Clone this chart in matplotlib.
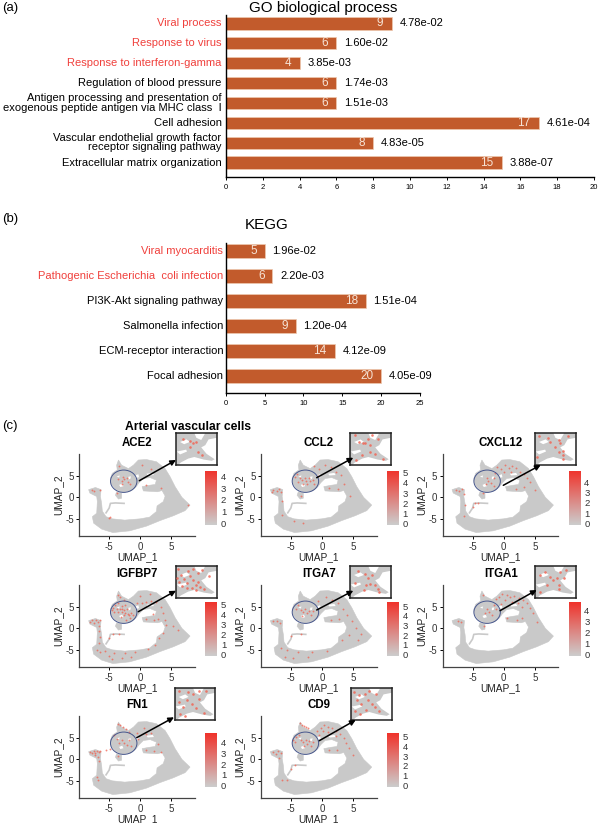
import matplotlib

matplotlib.use("Agg")
import matplotlib.pyplot as plt
import numpy as np
from matplotlib.colors import LinearSegmentedColormap
from matplotlib.patches import Ellipse, Polygon

W, H = 600, 824

plt.rcParams["font.family"] = ["Liberation Sans", "DejaVu Sans"]
plt.rcParams["axes.unicode_minus"] = False

BAR_COLOR = "#c25b2c"
RED_TEXT = "#f0403c"
GRAY_CELLS = "#c9c9c9"
RED_CELLS = "#f2604f"

go_terms = [
    "Viral process",
    "Response to virus",
    "Response to interferon-gamma",
    "Regulation of blood pressure",
    "Antigen processing and presentation of\nexogenous peptide antigen via MHC class  \u2160",
    "Cell adhesion",
    "Vascular endothelial growth factor\nreceptor signaling pathway",
    "Extracellular matrix organization",
]
go_counts = [9, 6, 4, 6, 6, 17, 8, 15]
go_pvalues = ["4.78e-02", "1.60e-02", "3.85e-03", "1.74e-03", "1.51e-03", "4.61e-04", "4.83e-05", "3.88e-07"]
go_red = [True, True, True, False, False, False, False, False]

kegg_terms = [
    "Viral myocarditis",
    "Pathogenic Escherichia  coli infection",
    "PI3K-Akt signaling pathway",
    "Salmonella infection",
    "ECM-receptor interaction",
    "Focal adhesion",
]
kegg_counts = [5, 6, 18, 9, 14, 20]
kegg_pvalues = ["1.96e-02", "2.20e-03", "1.51e-04", "1.20e-04", "4.12e-09", "4.05e-09"]
kegg_red = [True, True, False, False, False, False]

# UMAP outline, in UMAP units
umap_outline = [
    (-4.8, 4.4), (-4.5, 5.6), (-3.7, 6.4), (-3.8, 7.5), (-3.5, 8.7), (-3.0, 7.5), (-1.9, 6.7),
    (-1.1, 7.5), (-0.3, 8.7), (1.0, 8.8), (2.6, 8.3), (4.0, 6.7), (4.8, 4.8), (5.6, 2.5),
    (6.7, 0.0), (8.0, -1.8), (7.2, -3.1), (5.3, -4.3), (3.2, -5.4), (1.0, -6.7), (-1.7, -7.8),
    (-4.4, -8.2), (-6.2, -7.4), (-7.5, -6.0), (-7.7, -4.5), (-7.0, -3.7), (-6.9, -1.0),
    (-7.0, 0.2), (-8.1, 1.0), (-8.3, 1.8), (-7.2, 2.3), (-6.3, 1.8), (-6.4, 0.2), (-6.2, -1.5),
    (-6.1, -3.2), (-5.5, -4.5), (-4.5, -5.0), (-2.5, -5.3), (0.0, -5.0), (1.5, -4.6), (2.6, -3.3),
    (2.7, -2.0), (3.7, -1.0), (4.0, 0.3), (3.5, 1.6), (2.8, 1.3), (0.5, 1.5), (0.3, 2.5),
    (1.4, 2.8), (2.4, 3.0), (2.6, 4.0), (1.6, 4.6), (0.5, 4.4), (-0.2, 3.4), (-0.7, 2.4),
    (-1.5, 1.5), (-2.8, 1.2), (-4.0, 1.9), (-4.7, 3.2),
]
umap_island = [(-3.8, 1.3), (-3.0, 1.0), (-3.0, -0.2), (-3.5, -0.4), (-4.0, 0.5)]
umap_strand_x = [-5.5, -5.0, -4.8, -4.0, -2.6]
umap_strand_y = [-3.6, -2.5, -1.4, -1.3, -1.4]
umap_gaps = [
    [(1.0, 5.5), (2.0, 5.7), (2.2, 5.2), (1.2, 5.1)],
    [(-0.8, 5.1), (-0.3, 5.4), (-0.2, 4.7), (-0.7, 4.5)],
    [(-3.4, 2.9), (-2.9, 3.2), (-2.7, 2.6), (-3.2, 2.4)],
    [(-1.9, 4.8), (-1.5, 4.9), (-1.6, 4.3), (-1.9, 4.2)],
    [(-3.8, 4.9), (-3.3, 5.1), (-3.4, 4.6)],
]

# zoomed region, fractions of the inset box
inset_outline = [
    (0, 1), (0.45, 1), (0.5, 0.85), (0.62, 0.78), (0.72, 1), (1, 1), (1, 0.85), (0.8, 0.8),
    (0.72, 0.62), (0.62, 0.55), (0.75, 0.35), (0.95, 0.18), (0.88, 0.13), (0.68, 0.17),
    (0.45, 0.25), (0.3, 0.2), (0.12, 0.08), (0.05, 0), (0, 0),
]
inset_gaps = [
    [(0.1, 0.72), (0.26, 0.8), (0.34, 0.72), (0.2, 0.65)],
    [(0.02, 0.42), (0.25, 0.48), (0.27, 0.42), (0.1, 0.33)],
]

ace2_cells = [(-2.7, 4.7), (-2.6, 4.2), (-2.2, 4.4), (-3.0, 3.8), (-2.0, 3.6), (-1.6, 3.2), (-3.5, 4.2), (-2.9, 3.0),
              (-7.4, 1.5), (-7.8, 1.7), (-6.5, 1.6), (-3.4, 7.4), (0.2, 7.6), (1.8, 6.5), (3.3, 2.2), (-5.0, -4.8),
              (-4.8, -4.5), (1.0, 2.8), (7.7, -1.7), (-3.8, 1.0)]
ccl2_cells = [(-3.6, 4.4), (-3.2, 4.0), (-2.8, 4.4), (-2.5, 3.8), (-2.1, 4.6), (-1.9, 3.9), (-3.0, 3.2), (-2.4, 3.0),
              (-3.9, 3.6), (-4.3, 4.8), (-4.0, 5.5), (-1.4, 4.0), (-1.2, 3.2), (-7.8, 1.8), (-7.3, 1.4), (-6.9, 1.9),
              (-6.6, 1.3), (-8.0, 1.2), (-6.5, -0.8), (-0.5, 6.5), (0.5, 7.5), (1.5, 7.0), (2.3, 6.0), (3.0, 5.2),
              (-0.7, 5.0), (3.5, 3.0), (1.2, 2.2), (2.5, 2.0), (-4.5, -5.5), (-3.0, -6.0), (-6.5, -4.0), (-3.4, 0.4),
              (4.5, 0.4), (-1.2, 7.2)]
cxcl12_cells = [(-1.0, 7.0), (-0.5, 6.6), (0.2, 7.6), (0.8, 6.8), (1.3, 7.4), (2.0, 6.8), (2.7, 6.0), (3.3, 5.4),
                (3.8, 4.6), (4.2, 3.5), (1.2, 5.9), (0.0, 5.8), (-1.4, 5.6), (-2.6, 4.6), (-2.5, 3.9), (-2.1, 3.3),
                (-2.9, 3.2), (-1.6, 4.6), (-1.6, 2.6), (-7.6, 1.8), (-7.1, 1.5), (-6.7, 1.9), (-6.4, 0.8), (-6.2, -1.8),
                (-5.0, -2.2), (-4.6, -1.4), (-4.2, -1.3), (-3.3, 1.0), (2.0, 2.0), (3.2, 2.4), (5.0, 1.8), (-6.4, -4.4)]
igfbp7_cells = [(-4.6, 4.2), (-4.4, 4.8), (-4.1, 5.4), (-4.2, 3.8), (-3.8, 4.6), (-3.6, 3.9), (-3.3, 4.4), (-3.0, 3.9),
                (-2.9, 4.6), (-2.6, 4.2), (-2.4, 3.6), (-2.2, 4.4), (-2.0, 3.4), (-1.8, 3.0), (-2.6, 3.0), (-3.1, 2.6),
                (-1.5, 3.6), (-1.2, 3.2), (-1.6, 2.4), (-2.3, 1.9), (-3.0, 5.2), (-2.4, 5.4), (-3.6, 5.9), (-3.5, 7.7),
                (-3.2, 7.2), (-2.6, 6.6), (-8.0, 1.5), (-7.7, 1.9), (-7.4, 1.3), (-7.1, 2.0), (-6.8, 1.5), (-6.5, 1.9),
                (-6.6, 0.6), (-6.7, -0.6), (-6.5, -2.0), (-6.6, -3.4), (-5.0, -2.2), (-4.4, -1.4), (-3.4, -1.4),
                (-0.5, 6.0), (0.3, 5.9), (1.0, 6.2), (1.8, 6.4), (2.6, 6.1), (3.3, 5.0), (3.6, 3.6), (2.0, 3.4),
                (1.0, 2.2), (2.2, 2.0), (2.8, 2.2), (3.9, 2.0), (4.2, 0.8), (3.6, -1.0), (3.0, -2.2), (2.4, -3.8),
                (1.2, -4.9), (-0.8, -5.5), (-2.5, -5.8), (-4.2, -5.8), (-5.6, -5.2), (-6.4, -5.6), (-4.6, -7.2),
                (-3.0, -7.0), (-5.0, -6.4), (5.2, 0.5), (6.0, -0.4), (0.0, 7.6), (1.5, 8.0), (-6.9, -5.0), (-1.5, -6.6)]
itga7_cells = [(-3.4, 4.3), (-3.0, 3.7), (-2.7, 4.4), (-2.4, 3.5), (-2.1, 4.0), (-1.8, 3.2), (-3.2, 2.8), (-1.5, 4.1),
               (-4.2, 4.6), (-3.9, 5.4), (-7.8, 1.7), (-7.2, 1.6), (-6.7, 1.2), (-0.6, 6.4), (0.6, 7.2), (1.6, 6.6),
               (2.6, 5.8), (3.4, 4.6), (4.0, 3.0), (4.8, 1.6), (5.4, 0.2), (6.2, -1.2), (5.8, -2.6), (4.4, -1.6),
               (3.2, -2.8), (1.4, 2.0), (2.7, 2.2), (0.8, -5.2), (-1.6, -5.5), (-3.8, -5.6), (-5.6, -5.0), (-6.6, -4.6),
               (-4.6, -7.0), (-2.2, -6.7), (-6.0, -6.6), (-5.0, -1.8), (-3.4, -1.3)]
itga1_cells = [(-1.2, 6.8), (-0.7, 7.4), (-0.2, 7.9), (0.5, 7.8), (1.0, 7.2), (1.7, 7.5), (2.4, 7.0), (3.1, 6.5),
               (3.7, 5.8), (4.2, 4.7), (4.7, 3.6), (0.2, 6.5), (1.3, 6.2), (2.3, 5.8), (3.0, 5.0), (-0.4, 5.6),
               (-1.6, 5.4), (-2.6, 4.5), (-2.3, 3.7), (-1.8, 3.1), (-3.0, 3.5), (-1.3, 4.4), (-7.3, 1.8), (-6.8, 1.5),
               (2.2, 2.0), (3.0, 2.3), (5.4, 1.4), (-3.4, 7.8), (-3.1, 0.6), (0.6, 2.4)]
fn1_cells = [(-8.0, 1.8), (-7.7, 1.4), (-7.5, 1.9), (-7.2, 1.5), (-7.0, 2.0), (-6.7, 1.6), (-6.4, 1.9), (-7.3, 1.0),
             (-6.8, 0.6), (-6.6, -0.4), (-6.8, -4.8), (-6.9, -4.2), (-3.6, 8.2), (-3.2, 7.9), (-2.8, 7.5), (-2.3, 7.0),
             (-1.8, 6.4), (-2.9, 4.4), (-2.6, 3.8), (-2.2, 3.3), (-3.4, 3.7), (-1.8, 4.4), (-1.5, 3.0), (-3.8, 4.8),
             (-4.2, 5.6), (-0.6, 6.2), (0.6, 7.2), (1.8, 6.2), (-0.4, 4.8), (0.9, 5.8), (2.9, 3.6), (1.0, 2.2),
             (2.2, 2.0), (3.4, 1.8), (-3.5, 0.7), (-4.8, 2.4), (-5.5, 2.2)]
cd9_cells = [(-3.5, 8.4), (-3.2, 8.1), (-2.9, 7.8), (-2.6, 7.5), (-2.3, 7.2), (-4.6, 4.6), (-4.2, 5.1), (-4.3, 4.0),
             (-3.7, 5.6), (-3.4, 4.6), (-3.0, 4.0), (-2.6, 4.6), (-2.4, 3.6), (-2.1, 4.2), (-1.8, 3.2), (-2.9, 3.0),
             (-1.5, 4.0), (-0.8, 6.6), (-0.2, 7.4), (0.4, 8.0), (1.0, 7.6), (1.6, 7.2), (0.2, 6.6), (0.9, 6.3),
             (2.2, 6.6), (2.9, 5.9), (3.5, 5.0), (3.9, 3.9), (4.3, 2.6), (2.2, 5.4), (-0.4, 5.7), (-7.9, 1.6),
             (-7.4, 1.2), (-7.0, 1.9), (-6.6, 1.5), (-6.9, 0.4), (1.2, 2.2), (2.4, 2.1), (-5.0, -2.2), (-4.3, -1.3),
             (-6.4, -4.7), (-5.7, -4.9), (5.0, 1.0)]

ace2_inset = [(0.35, 0.75), (0.42, 0.68), (0.5, 0.72), (0.35, 0.55), (0.65, 0.3), (0.55, 0.42), (0.18, 0.8)]
ccl2_inset = [(0.12, 0.95), (0.22, 0.72), (0.33, 0.68), (0.38, 0.7), (0.45, 0.8), (0.5, 0.62), (0.55, 0.95),
              (0.7, 0.8), (0.5, 0.42), (0.3, 0.3), (0.15, 0.15), (0.62, 0.35), (0.8, 0.2)]
cxcl12_inset = [(0.1, 0.9), (0.32, 0.85), (0.38, 0.72), (0.48, 0.55), (0.58, 0.42), (0.68, 0.45), (0.6, 0.78),
                (0.62, 0.68), (0.8, 0.92), (0.68, 0.3), (0.05, 0.25), (0.68, 0.18)]
igfbp7_inset = [(0.05, 0.9), (0.12, 0.72), (0.2, 0.6), (0.28, 0.48), (0.35, 0.68), (0.42, 0.55), (0.48, 0.42),
                (0.55, 0.5), (0.6, 0.35), (0.7, 0.28), (0.3, 0.85), (0.42, 0.92), (0.55, 0.78), (0.65, 0.88),
                (0.08, 0.5), (0.15, 0.38), (0.28, 0.3), (0.4, 0.32), (0.5, 0.25), (0.8, 0.7), (0.02, 0.62)]
itga7_inset = [(0.2, 0.85), (0.38, 0.75), (0.45, 0.62), (0.4, 0.42), (0.5, 0.45), (0.62, 0.42), (0.68, 0.28),
               (0.72, 0.2), (0.35, 0.25), (0.12, 0.48), (0.55, 0.72)]
itga1_inset = [(0.12, 0.72), (0.25, 0.82), (0.38, 0.65), (0.45, 0.55), (0.58, 0.42), (0.62, 0.82), (0.75, 0.88),
               (0.72, 0.62), (0.55, 0.62), (0.3, 0.4), (0.12, 0.18), (0.6, 0.28)]
fn1_inset = [(0.1, 0.92), (0.32, 0.88), (0.45, 0.82), (0.6, 0.92), (0.78, 0.9), (0.3, 0.62), (0.42, 0.5),
             (0.52, 0.38), (0.2, 0.42), (0.12, 0.2), (0.25, 0.12), (0.72, 0.22), (0.1, 0.55), (0.6, 0.65)]
cd9_inset = [(0.08, 0.88), (0.2, 0.78), (0.35, 0.82), (0.45, 0.9), (0.62, 0.8), (0.42, 0.62), (0.52, 0.5),
             (0.6, 0.4), (0.25, 0.5), (0.1, 0.28), (0.22, 0.2), (0.38, 0.3), (0.15, 0.62), (0.7, 0.28)]

# gene, expression cells, inset cells, colorbar top, colorbar ticks
genes = [
    ("ACE2", ace2_cells, ace2_inset, 4.48, [0, 1, 2, 3, 4]),
    ("CCL2", ccl2_cells, ccl2_inset, 5.2, [0, 1, 2, 3, 4, 5]),
    ("CXCL12", cxcl12_cells, cxcl12_inset, 5.1, [0, 1, 2, 3, 4]),
    ("IGFBP7", igfbp7_cells, igfbp7_inset, 5.3, [0, 1, 2, 3, 4, 5]),
    ("ITGA7", itga7_cells, itga7_inset, 5.45, [0, 1, 2, 3, 4, 5]),
    ("ITGA1", itga1_cells, itga1_inset, 4.82, [0, 1, 2, 3, 4]),
    ("FN1", fn1_cells, fn1_inset, 4.9, [0, 1, 2, 3, 4]),
    ("CD9", cd9_cells, cd9_inset, 5.37, [0, 1, 2, 3, 4, 5]),
]

# pixel layout per panel: axes left, axes top, inset left, inset top, arrow tail and head
panel_layout = [
    (79.3, 454, 176, 433, (139.3, 480.7), (176, 460)),
    (261, 454, 350, 433, (316.7, 477.7), (353.3, 457.7)),
    (442.7, 454, 535, 433, (503.3, 485.3), (540.7, 465)),
    (79.3, 585, 176, 566, (138.3, 611.7), (176, 590.7)),
    (261, 585, 350, 566, (316.7, 610), (353.3, 590.7)),
    (442.7, 585, 535, 566, (500, 610.7), (536.7, 590)),
    (79.3, 716, 174.7, 688, (136.7, 737.7), (174, 717.3)),
    (261, 716, 351, 688, (319.3, 740.7), (355.7, 720)),
]
colorbar_lefts = [205.3, 387, 568.7, 205.3, 387, 568.7, 205.3, 387]


def px_axes(fig, left, top, right, bottom, **kwargs):
    return fig.add_axes([left / W, 1 - bottom / H, (right - left) / W, (bottom - top) / H], **kwargs)


def plot_bars(ax, terms, counts, pvalues, red, bar_height, xticks, count_gap, value_gap, fontsize=8):
    y_values = np.arange(len(terms))
    ax.barh(y_values, counts, height=bar_height, color=BAR_COLOR, edgecolor="#eec9b0", linewidth=0.5, zorder=2)

    for y, term, count, pvalue, is_red in zip(y_values, terms, counts, pvalues, red):
        ax.text(-0.012 * ax.get_xlim()[1], y, term, ha="right", va="center", fontsize=fontsize,
                color=RED_TEXT if is_red else "black", linespacing=0.92)
        ax.text(count - count_gap, y, str(count), ha="right", va="center", fontsize=fontsize + 0.5, color="#f6e3d5")
        ax.text(count + value_gap, y, pvalue, ha="left", va="center", fontsize=fontsize, color="black")

    ax.set_xticks(xticks)
    ax.set_yticks([])
    ax.tick_params(axis="x", labelsize=5.5, length=2.5, width=0.7, pad=3)
    ax.spines[["top", "right"]].set_visible(False)
    ax.spines[["left", "bottom"]].set_linewidth(1.0)


def plot_umap(ax, cells):
    ax.add_patch(Polygon(umap_outline, closed=True, facecolor=GRAY_CELLS, edgecolor=GRAY_CELLS, linewidth=0.4))
    ax.add_patch(Polygon(umap_island, closed=True, facecolor=GRAY_CELLS, edgecolor=GRAY_CELLS, linewidth=0.4))
    ax.plot(umap_strand_x, umap_strand_y, color=GRAY_CELLS, linewidth=1.2)
    for gap in umap_gaps:
        ax.add_patch(Polygon(gap, closed=True, facecolor="white", edgecolor="none"))

    xs, ys = zip(*cells)
    ax.scatter(xs, ys, s=1.8, color=RED_CELLS, alpha=0.75, linewidths=0, zorder=3)
    ax.add_patch(Ellipse((-2.66, 3.76), 4.25, 5.2, fill=False, edgecolor="#46568c", linewidth=0.7, zorder=4))

    ax.set_xlim(-9.8, 8.8)
    ax.set_ylim(-9, 10.1)
    ax.set_xticks([-5, 0, 5])
    ax.set_yticks([-5, 0, 5])
    ax.set_xlabel("UMAP_1", fontsize=7.3, labelpad=0.5, color="#222222")
    ax.set_ylabel("UMAP_2", fontsize=7.3, labelpad=1.5, color="#222222")
    ax.tick_params(labelsize=7, length=2, width=0.7, pad=2, labelcolor="#333333")
    ax.spines[["top", "right"]].set_visible(False)
    ax.spines[["left", "bottom"]].set_linewidth(0.9)
    ax.spines[["left", "bottom"]].set_color("#444444")


def plot_inset(ax, cells):
    ax.add_patch(Polygon(inset_outline, closed=True, facecolor=GRAY_CELLS, edgecolor="none"))
    for gap in inset_gaps:
        ax.add_patch(Polygon(gap, closed=True, facecolor="white", edgecolor="none"))
    xs, ys = zip(*cells)
    ax.scatter(xs, ys, s=3.5, color=RED_CELLS, alpha=0.8, linewidths=0, zorder=3)
    ax.set_xlim(0, 1)
    ax.set_ylim(0, 1)
    ax.set_xticks([])
    ax.set_yticks([])
    for spine in ax.spines.values():
        spine.set_linewidth(1.1)
        spine.set_color("#222222")


def plot_colorbar(ax, vmax, ticks):
    cmap = LinearSegmentedColormap.from_list("expr", ["#cccccc", "#f0332b"])
    gradient = np.linspace(0, 1, 64).reshape(-1, 1)
    ax.imshow(gradient, cmap=cmap, origin="lower", aspect="auto", extent=[0, 1, -0.1, vmax])
    ax.set_xticks([])
    ax.yaxis.tick_right()
    ax.set_yticks(ticks)
    ax.tick_params(axis="y", length=0, labelsize=6.8, pad=3, labelcolor="#333333")
    for spine in ax.spines.values():
        spine.set_visible(False)


def main():
    fig = plt.figure(figsize=(W / 100, H / 100), dpi=100, facecolor="white")

    ax_go = px_axes(fig, 226, 15, 594, 176.7)
    ax_go.set_xlim(0, 20)
    ax_go.set_ylim(7.71, -0.42)
    plot_bars(ax_go, go_terms, go_counts, go_pvalues, go_red, 0.62, list(range(0, 21, 2)), 0.45, 0.42)

    ax_kegg = px_axes(fig, 225.7, 243, 420, 392.7)
    ax_kegg.set_xlim(0, 25)
    ax_kegg.set_ylim(5.67, -0.32)
    plot_bars(ax_kegg, kegg_terms, kegg_counts, kegg_pvalues, kegg_red, 0.56, list(range(0, 26, 5)), 1.0, 1.0)

    overlay = fig.add_axes([0, 0, 1, 1], zorder=10)
    overlay.set_xlim(0, W)
    overlay.set_ylim(H, 0)
    overlay.axis("off")

    overlay.text(323, 8, "GO biological process", ha="center", va="center", fontsize=11)
    overlay.text(267, 225, "KEGG", ha="center", va="center", fontsize=11)
    overlay.text(2, 8, "(a)", ha="left", va="center", fontsize=9.5)
    overlay.text(2, 219, "(b)", ha="left", va="center", fontsize=9.5)
    overlay.text(2, 426, "(c)", ha="left", va="center", fontsize=9.5)
    overlay.text(187.7, 426.7, "Arterial vascular cells", ha="center", va="center", fontsize=8.7, fontweight="bold")

    for (gene, cells, inset_cells, vmax, ticks), layout, cbar_left in zip(genes, panel_layout, colorbar_lefts):
        left, top, inset_left, inset_top, tail, head = layout
        ax = px_axes(fig, left, top, left + 115.7, top + 82)
        plot_umap(ax, cells)

        overlay.text(left + 58, top - 11, gene, ha="center", va="center", fontsize=8.3, fontweight="bold")

        inset = px_axes(fig, inset_left, inset_top, inset_left + 40.7, inset_top + 32, zorder=5)
        plot_inset(inset, inset_cells)

        cbar = px_axes(fig, cbar_left, top + 16.7, cbar_left + 11.4, top + 70.7)
        plot_colorbar(cbar, vmax, ticks)

        overlay.annotate("", xy=head, xytext=tail,
                         arrowprops=dict(arrowstyle="-|>", color="black", linewidth=1.1, mutation_scale=8,
                                         shrinkA=0, shrinkB=0))

    fig.savefig("out.png", dpi=100)


if __name__ == "__main__":
    main()
